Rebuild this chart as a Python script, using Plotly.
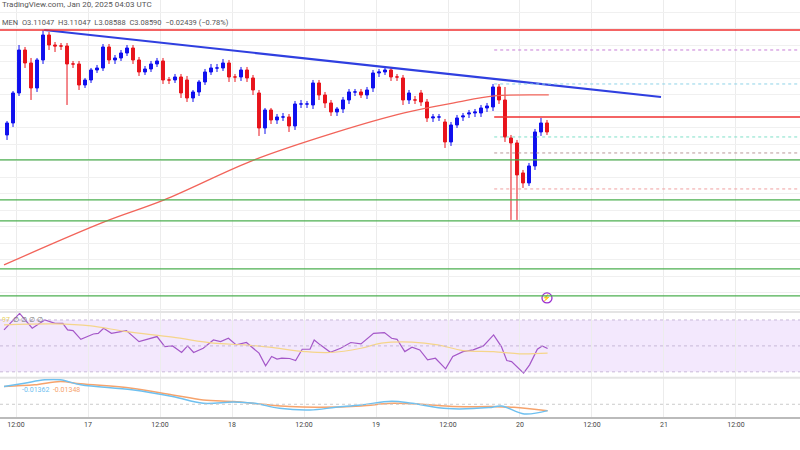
import plotly.graph_objects as go

# x unit: hours since Jan 16 10:00 (hourly candles); main-panel value unit is arbitrary price level
candle_x = [0.5 + i for i in range(91)]
opens = [185, 197, 227, 270, 257, 232, 260, 285, 275, 274, 274, 256, 256, 235, 240, 250, 252, 273, 260, 262,
         267, 272, 260, 248, 251, 256, 259, 240, 240, 243, 240, 222, 228, 238, 248, 252, 252, 257, 243, 243,
         250, 242, 227, 192, 210, 200, 203, 203, 194, 216, 216, 215, 237, 225, 217, 208, 211, 220, 228, 228,
         225, 232, 247, 248, 250, 243, 242, 220, 220, 227, 218, 202, 203, 198, 178, 195, 203, 206, 207, 207,
         212, 213, 233, 220, 182, 177, 147, 137, 154, 188, 197]
closes = [197, 227, 270, 257, 232, 260, 285, 275, 274, 274, 256, 256, 235, 240, 250, 252, 273, 260, 262, 267,
          272, 260, 248, 251, 256, 259, 240, 240, 243, 227, 222, 228, 238, 248, 252, 252, 257, 243, 243, 250,
          242, 230, 192, 210, 200, 203, 203, 194, 216, 216, 216, 237, 225, 217, 208, 211, 220, 228, 228, 225,
          230, 247, 248, 250, 243, 243, 220, 227, 220, 218, 202, 203, 203, 178, 195, 202, 204, 207, 208, 212,
          214, 233, 220, 183, 177, 145, 137, 154, 188, 197, 188]
highs = [199, 229, 275, 273, 262, 262, 290, 288, 278, 277, 277, 259, 259, 242, 252, 255, 276, 276, 265, 270,
         275, 275, 263, 254, 259, 262, 262, 243, 246, 246, 244, 230, 240, 251, 256, 256, 261, 260, 246, 253,
         253, 245, 230, 212, 212, 206, 207, 206, 219, 220, 219, 240, 240, 228, 220, 213, 223, 231, 231, 231,
         233, 250, 251, 253, 253, 246, 245, 230, 224, 230, 221, 206, 206, 201, 198, 205, 207, 210, 211, 215,
         217, 236, 236, 233, 185, 180, 150, 157, 191, 202, 200]
lows = [180, 193, 224, 252, 220, 228, 256, 270, 268, 270, 215, 252, 230, 232, 237, 247, 249, 256, 256, 259,
        264, 256, 244, 245, 248, 253, 236, 236, 237, 222, 218, 218, 224, 235, 245, 248, 249, 238, 238, 239,
        238, 225, 184, 186, 196, 196, 199, 188, 190, 212, 212, 211, 220, 212, 204, 204, 207, 216, 224, 222,
        221, 228, 243, 245, 239, 239, 215, 216, 216, 214, 198, 198, 199, 172, 174, 192, 199, 202, 203, 203,
        208, 209, 216, 178, 100, 100, 132, 134, 150, 184, 185]

ema_x = [0, 16.7, 26.7, 41.7, 55, 66.7, 75, 81.7, 90.8]
ema_y = [55, 98, 120, 160, 187, 207, 217, 224, 225]
trend_x = [6.7, 109.5]
trend_y = [290, 223]

resist_level = 290
resist2_level = 203
support_levels = [160, 120, 99, 51, 24]
dotted_levels = [270, 236, 183, 167, 131]
dotted_colors = ["#c77dd6", "#8fd3e8", "#7fe0c8", "#b89898", "#f0a0a0"]

rsi_x = [0, 2.6, 4.7, 6.8, 8.5, 9.8, 10.6, 11.5, 12.8, 14.9, 15.7, 16.6, 17.9, 20.4, 22.5, 25.5, 26.8, 28.1,
         29.6, 30.6, 31.6, 33.2, 34.9, 36.1, 37.4, 38.7, 40.4, 42.5, 43.6, 44.6, 45.5, 46.3, 47.6, 48.6, 49.7,
         51, 51.7, 52.7, 54.4, 56.1, 57.8, 59.5, 61.6, 63.4, 64.6, 65.5, 66.8, 68, 69.3, 70.6, 71.9, 73.6, 74.8,
         76.5, 78.2, 79.9, 81.6, 82.9, 83.8, 84.6, 86.6, 87.6, 88.9, 89.7, 90.6]
rsi_y = [62.3, 75.1, 63.6, 70, 67.4, 67.4, 62.3, 61.8, 55.1, 59.2, 59.7, 63.6, 59.7, 61.8, 53.3, 57.2, 49.5, 50,
         44.9, 50, 44.9, 48.2, 54.6, 53.3, 55.9, 50.8, 52.6, 44.4, 34.6, 41.8, 39.8, 40.5, 40.3, 38.7, 47.4,
         47.4, 54.6, 50.8, 45.1, 48.2, 52.6, 51.5, 59.7, 60.3, 55.9, 55.1, 45.6, 49, 46.9, 39.2, 40.5, 32.3, 41.8,
         45.6, 46.9, 50, 58.5, 49.5, 38.7, 37.9, 29, 35.4, 47.4, 50, 48]
rsi_ma_x = [0, 8.5, 14.5, 20.4, 28.1, 34.9, 40, 44.2, 50.2, 54.4, 59.5, 62.9, 68, 72.3, 76.5, 81.6, 85.9, 90.6]
rsi_ma_y = [66.2, 67, 65.4, 61, 56.7, 52.1, 50.8, 49, 45.6, 44.9, 48.2, 52.1, 52.9, 50.8, 46.4, 45.6, 43.9, 44.4]

macd_x = [0, 3.4, 6.8, 9.4, 12.8, 21.3, 28.1, 33.2, 38.3, 41.7, 45.9, 51, 55.3, 59.5, 64.6, 68, 74, 80.8, 82.9,
          86.7, 90.6]
macd_y = [0.53, 0.63, 0.73, 0.73, 0.58, 0.43, 0.23, 0.03, 0.07, 0.03, -0.12, -0.17, -0.09, -0.02, 0.09, 0.03,
          -0.13, -0.10, -0.05, -0.29, -0.19]
signal_x = [0, 5.1, 9.4, 12.8, 21.3, 28.1, 33.2, 38.3, 42.5, 47.6, 52.7, 59.5, 64.6, 69.7, 74.8, 81.6, 85, 90.6]
signal_y = [0.53, 0.58, 0.68, 0.61, 0.48, 0.28, 0.13, 0.08, 0.01, -0.07, -0.09, -0.05, 0.03, 0.0, -0.07, -0.07,
            -0.09, -0.19]

tick_vals = [2, 14, 26, 38, 50, 62, 74, 86, 98, 110, 122]
tick_text = ["12:00", "17", "12:00", "18", "12:00", "19", "12:00", "20", "12:00", "21", "12:00"]

X_START, X_END = -0.67, 132.67
fig = go.Figure()

fig.add_trace(go.Candlestick(
    x=candle_x, open=opens, high=highs, low=lows, close=closes,
    increasing=dict(line=dict(color="#1010ee", width=1), fillcolor="#1010ee"),
    decreasing=dict(line=dict(color="#e8141c", width=1), fillcolor="#e8141c"),
    whiskerwidth=0, xaxis="x", yaxis="y", showlegend=False))
fig.add_trace(go.Scatter(x=ema_x, y=ema_y, mode="lines", line=dict(color="#f2645a", width=1.3, shape="spline"),
                         yaxis="y", showlegend=False))
fig.add_trace(go.Scatter(x=trend_x, y=trend_y, mode="lines", line=dict(color="#2f3fe0", width=2.2),
                         yaxis="y", showlegend=False))
fig.add_trace(go.Scatter(x=[90.5], y=[22], mode="markers+text", text=["⚡"], textfont=dict(size=7, color="#9b30d0"),
                         marker=dict(symbol="circle-open", size=10, color="#9b30d0", line=dict(width=1.3)),
                         yaxis="y", showlegend=False))

fig.add_trace(go.Scatter(x=rsi_x, y=rsi_y, mode="lines", line=dict(color="#a457c8", width=1.2),
                         yaxis="y2", showlegend=False))
fig.add_trace(go.Scatter(x=rsi_ma_x, y=rsi_ma_y, mode="lines", line=dict(color="#f5d58a", width=1.2, shape="spline"),
                         yaxis="y2", showlegend=False))
fig.add_trace(go.Scatter(x=signal_x, y=signal_y, mode="lines", line=dict(color="#f6a36c", width=1.5, shape="spline"),
                         yaxis="y3", showlegend=False))
fig.add_trace(go.Scatter(x=macd_x, y=macd_y, mode="lines", line=dict(color="#6ec0f0", width=1.5, shape="spline"),
                         yaxis="y3", showlegend=False))

shapes = []
shapes.append(dict(type="line", xref="x", yref="y", x0=X_START, x1=X_END, y0=resist_level, y1=resist_level,
                   line=dict(color="#f03030", width=1.5)))
shapes.append(dict(type="line", xref="x", yref="y", x0=81.7, x1=X_END, y0=resist2_level, y1=resist2_level,
                   line=dict(color="#f03030", width=1.5)))
for lv in support_levels:
    shapes.append(dict(type="line", xref="x", yref="y", x0=X_START, x1=X_END, y0=lv, y1=lv,
                       line=dict(color="#4caf50", width=1.3)))
for lv, c in zip(dotted_levels, dotted_colors):
    shapes.append(dict(type="line", xref="x", yref="y", x0=81.7, x1=X_END, y0=lv, y1=lv,
                       line=dict(color=c, width=1, dash="dot")))
# RSI band
shapes.append(dict(type="rect", xref="x", yref="y2", x0=X_START, x1=X_END, y0=30, y1=70,
                   fillcolor="rgba(200,150,245,0.22)", line=dict(width=0), layer="below"))
for lv in [30, 50, 70]:
    shapes.append(dict(type="line", xref="x", yref="y2", x0=X_START, x1=X_END, y0=lv, y1=lv,
                       line=dict(color="#c8b8d8", width=1, dash="dot")))
shapes.append(dict(type="line", xref="x", yref="y3", x0=X_START, x1=X_END, y0=0, y1=0,
                   line=dict(color="#cccccc", width=1, dash="dot")))
# panel separators
for yp in [0.252, 0.094]:
    shapes.append(dict(type="line", xref="paper", yref="paper", x0=0, x1=1, y0=yp, y1=yp,
                       line=dict(color="#e4e4e4", width=2)))

annotations = [
    dict(text="TradingView.com, Jan 20, 2025 04:03 UTC", x=0, y=1.0, xref="paper", yref="paper",
         xanchor="left", yanchor="top", showarrow=False, font=dict(size=8, color="#555"), yshift=2),
    dict(text="MEN  O3.11047  H3.11047  L3.08588  C3.08590  −0.02439 (−0.78%)", x=0, y=1.0, xref="paper",
         yref="paper", xanchor="left", yanchor="top", showarrow=False, font=dict(size=7.5, color="#555"), yshift=-16),
    dict(text="<span style='color:#e8d060'>97</span>  ∅ ∅ ∅ ∅", x=0, y=0.252, xref="paper", yref="paper",
         xanchor="left", yanchor="top", showarrow=False, font=dict(size=7, color="#777"), yshift=-2),
    dict(text="<span style='color:#6ec0f0'>-0.01362</span>  <span style='color:#f6a36c'>-0.01348</span>",
         x=0.025, y=0.094, xref="paper", yref="paper", xanchor="left", yanchor="top", showarrow=False,
         font=dict(size=7), yshift=-6),
]

fig.update_layout(
    width=800, height=450, margin=dict(l=0, r=0, t=0, b=33, pad=0),
    paper_bgcolor="white", plot_bgcolor="white",
    font=dict(family="Roboto, sans-serif"),
    xaxis=dict(range=[X_START, X_END], tickvals=tick_vals, ticktext=tick_text, showgrid=True, gridcolor="#ececec",
               tickfont=dict(size=7, color="#444"), rangeslider=dict(visible=False), zeroline=False,
               showline=True, linecolor="#bbbbbb", linewidth=2, ticks="", anchor="y3", automargin=False),
    yaxis=dict(domain=[0.252, 1], range=[8, 320], showticklabels=False, showgrid=True, gridcolor="#f0f0f0",
               tick0=258, dtick=16.5, zeroline=False, automargin=False),
    yaxis2=dict(domain=[0.094, 0.252], range=[25.4, 76.2], showticklabels=False, showgrid=False, zeroline=False,
                automargin=False),
    yaxis3=dict(domain=[0, 0.094], range=[-0.38, 0.79], showticklabels=False, showgrid=False, zeroline=False,
                automargin=False),
    shapes=shapes, annotations=annotations,
)

fig.write_html("out.html", config={"displayModeBar": False},
               post_script="document.body.style.margin='0';")
